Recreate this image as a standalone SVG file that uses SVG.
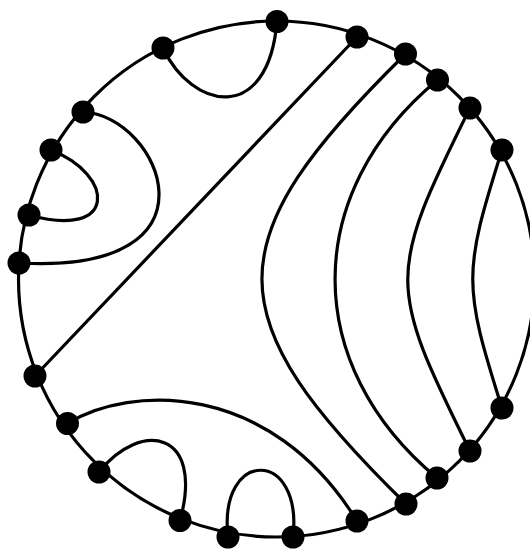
<svg xmlns="http://www.w3.org/2000/svg" width="530" height="550" viewBox="0 0 530 550">
<style>
.edge{fill:none;stroke:#000;stroke-width:3.2;stroke-linecap:round}
.node{fill:#000}
</style>
<rect width="530" height="550" fill="#fff"/>
<g id="boundary">
<circle cx="276.5" cy="279" r="258" class="edge"/>
</g>
<g id="connectors">
<path class="edge" d="M163,48 C192,110 268,125 277,21.5"/>
<path class="edge" d="M83,112 C160,115 230,275 19,263"/>
<path class="edge" d="M51,150 C115,175 118,240 29,215"/>
<path class="edge" d="M357,37 L35,376"/>
<path class="edge" d="M405.5,54 C214,242 214,316 406,504"/>
<path class="edge" d="M437.5,80 C301,193 301,365 437,478"/>
<path class="edge" d="M470,108 C387,275 387,284 470,451"/>
<path class="edge" d="M502,150 C463,273 463,285 502,408"/>
<path class="edge" d="M67.5,423.5 C130,385 270,380 357,521"/>
<path class="edge" d="M99,472 C140,420 205,430 180,520.5"/>
<path class="edge" d="M228,537 C218,448 303,448 293,537"/>
</g>
<g id="nA"><circle class="node" cx="163" cy="48" r="11.5"/></g>
<g id="nB"><circle class="node" cx="83" cy="112" r="11.5"/></g>
<g id="nC"><circle class="node" cx="51" cy="150" r="11.5"/></g>
<g id="nD"><circle class="node" cx="29" cy="215" r="11.5"/></g>
<g id="nE"><circle class="node" cx="19" cy="263" r="11.5"/></g>
<g id="nF"><circle class="node" cx="277" cy="21.5" r="11.5"/></g>
<g id="nG"><circle class="node" cx="357" cy="37" r="11.5"/></g>
<g id="nH"><circle class="node" cx="405.5" cy="54" r="11.5"/></g>
<g id="nI"><circle class="node" cx="437.5" cy="80" r="11.5"/></g>
<g id="nJ"><circle class="node" cx="470" cy="108" r="11.5"/></g>
<g id="nK"><circle class="node" cx="502" cy="150" r="11.5"/></g>
<g id="nL"><circle class="node" cx="35" cy="376" r="11.5"/></g>
<g id="nM"><circle class="node" cx="67.5" cy="423.5" r="11.5"/></g>
<g id="nN"><circle class="node" cx="99" cy="472" r="11.5"/></g>
<g id="nO"><circle class="node" cx="180" cy="520.5" r="11.5"/></g>
<g id="nP"><circle class="node" cx="228" cy="537" r="11.5"/></g>
<g id="nQ"><circle class="node" cx="293" cy="537" r="11.5"/></g>
<g id="nR"><circle class="node" cx="357" cy="521" r="11.5"/></g>
<g id="nS"><circle class="node" cx="406" cy="504" r="11.5"/></g>
<g id="nT"><circle class="node" cx="437" cy="478" r="11.5"/></g>
<g id="nU"><circle class="node" cx="470" cy="451" r="11.5"/></g>
<g id="nV"><circle class="node" cx="502" cy="408" r="11.5"/></g>
</svg>
